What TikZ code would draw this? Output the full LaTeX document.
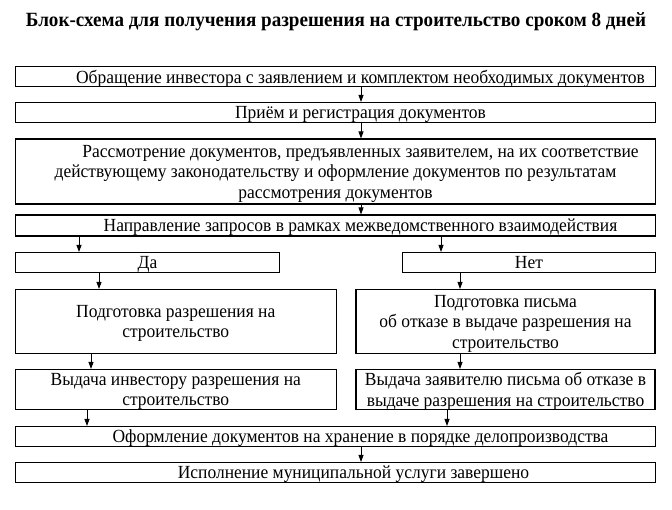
\documentclass[tikz,border=0pt]{standalone}
\usepackage{fontspec}
\setmainfont[FakeStretch=0.945]{Liberation Serif}
\usetikzlibrary{arrows.meta}

\begin{document}
\begin{tikzpicture}[x=1pt,y=-1pt,
    box/.style={draw,line width=1.1pt,inner sep=0pt,align=center,text depth=0pt,font=\fontsize{18.5}{20.5}\selectfont},
    arr/.style={-{Triangle[length=7pt,width=5pt]},line width=0.8pt}]

        \useasboundingbox (0,0) rectangle (672,509);

        \node[font=\bfseries\fontsize{20.2}{22}\selectfont] (title) at (336,22) {Блок-схема для получения разрешения на строительство сроком 8 дней};

        \node[box,minimum width=640pt,minimum height=20pt] (n1) at (335.5,76.5) {\hspace*{50pt}Обращение инвестора с заявлением и комплектом необходимых документов};
        \node[box,minimum width=640pt,minimum height=20pt] (n2) at (335.5,112.5) {\hspace*{50pt}Приём и регистрация документов};
        \node[box,minimum width=640pt,minimum height=65pt] (n3) at (335.5,171.5) {\hspace*{50pt}Рассмотрение документов, предъявленных заявителем, на их соответствие\\действующему законодательству и оформление документов по результатам\\рассмотрения документов};
        \node[box,minimum width=640pt,minimum height=21pt] (n4) at (335.5,225.5) {\hspace*{50pt}Направление запросов в рамках межведомственного взаимодействия};

        \node[box,minimum width=264pt,minimum height=20pt] (yes) at (147.5,262.5) {Да};
        \node[box,minimum width=253pt,minimum height=20pt] (no) at (529,262.5) {Нет};

        \node[box,minimum width=321pt,minimum height=64pt] (p1) at (175.75,321.5) {Подготовка разрешения на\\строительство};
        \node[box,minimum width=299pt,minimum height=64pt] (p2) at (505.5,321.5) {Подготовка письма\\об отказе в выдаче разрешения на\\строительство};

        \node[box,minimum width=321pt,minimum height=40pt] (v1) at (175.75,389.5) {Выдача инвестору разрешения на\\строительство};
        \node[box,minimum width=299pt,minimum height=40pt] (v2) at (505.5,389.5) {Выдача заявителю письма об отказе в\\выдаче разрешения на строительство};

        \node[box,minimum width=640pt,minimum height=20pt] (n5) at (335.5,436.5) {\hspace*{50pt}Оформление документов на хранение в порядке делопроизводства};
        \node[box,minimum width=640pt,minimum height=20pt] (n6) at (335.5,472.5) {\hspace*{36pt}Исполнение муниципальной услуги завершено};

        \draw[arr] (n1.south -| 361,0) -- (n2.north -| 361,0);
        \draw[arr] (n2.south -| 361,0) -- (n3.north -| 361,0);
        \draw[arr] (n3.south -| 361,0) -- (n4.north -| 361,0);
        \draw[arr] (n4.south -| 79,0) -- (yes.north -| 79,0);
        \draw[arr] (n4.south -| 441,0) -- (no.north -| 441,0);
        \draw[arr] (yes.south -| 99,0) -- (p1.north -| 99,0);
        \draw[arr] (no.south -| 460,0) -- (p2.north -| 460,0);
        \draw[arr] (p1.south -| 91,0) -- (v1.north -| 91,0);
        \draw[arr] (p2.south -| 460,0) -- (v2.north -| 460,0);
        \draw[arr] (v1.south -| 87,0) -- (n5.north -| 87,0);
        \draw[arr] (v2.south -| 447,0) -- (n5.north -| 447,0);
        \draw[arr] (n5.south -| 361,0) -- (n6.north -| 361,0);

    \end{tikzpicture}
\end{document}
